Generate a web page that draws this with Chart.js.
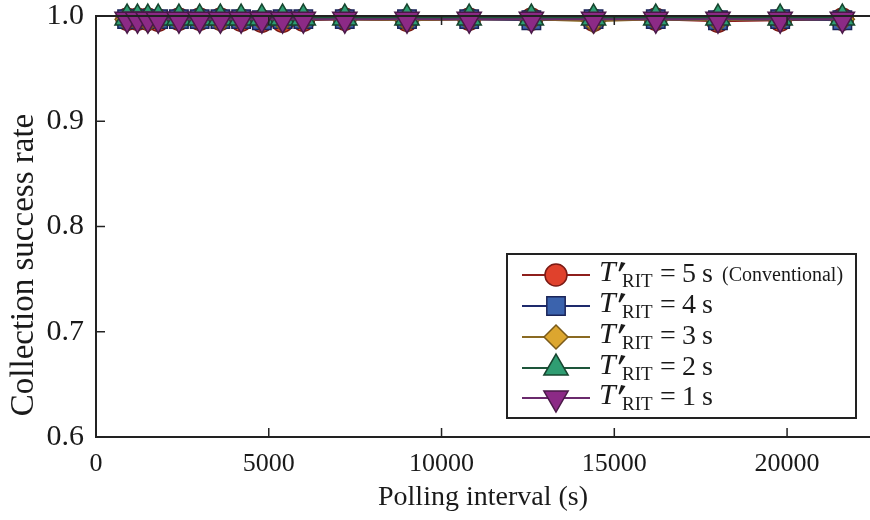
<!DOCTYPE html>
<html>
<head>
<meta charset="utf-8">
<script src="https://cdn.jsdelivr.net/npm/chart.js@4.4.1/dist/chart.umd.min.js"></script>
<style>
    html, body { margin: 0; padding: 0; background: #fff; }
    #wrap { width: 870px; height: 520px; }
</style>
</head>
<body>
<div id="wrap"><canvas id="rateChart" width="870" height="520"></canvas></div>
<script>
// ==========================
// DATA
// ==========================

const pollingIntervals = [900, 1200, 1500, 1800, 2400, 3000, 3600, 4200, 4800, 5400,
                          6000, 7200, 9000, 10800, 12600, 14400, 16200, 18000, 19800, 21600];

const rateRit5 = [0.997, 0.997, 0.997, 0.996, 0.997, 0.997, 0.997, 0.996, 0.995, 0.995,
                  0.996, 0.997, 0.996, 0.997, 0.997, 0.996, 0.997, 0.995, 0.996, 0.997];
const rateRit4 = [0.997, 0.997, 0.997, 0.997, 0.997, 0.997, 0.997, 0.997, 0.996, 0.997,
                  0.997, 0.997, 0.997, 0.997, 0.996, 0.997, 0.997, 0.996, 0.997, 0.996];
const rateRit3 = [0.997, 0.997, 0.996, 0.997, 0.997, 0.997, 0.996, 0.997, 0.997, 0.996,
                  0.997, 0.997, 0.996, 0.997, 0.997, 0.995, 0.997, 0.996, 0.997, 0.997];
const rateRit2 = [0.998, 0.998, 0.998, 0.998, 0.998, 0.998, 0.998, 0.998, 0.998, 0.998,
                  0.998, 0.998, 0.998, 0.998, 0.998, 0.998, 0.998, 0.998, 0.998, 0.998];
const rateRit1 = [0.997, 0.997, 0.997, 0.997, 0.997, 0.997, 0.997, 0.997, 0.997, 0.997,
                  0.997, 0.997, 0.997, 0.997, 0.997, 0.997, 0.997, 0.997, 0.997, 0.997];

const ritSeconds = ['5', '4', '3', '2', '1'];
const ritNotes   = ['(Conventional)', '', '', '', ''];

const xTicks = [0, 5000, 10000, 15000, 20000];
const yTicks = [0.6, 0.7, 0.8, 0.9, 1.0];

const xTitle = 'Polling interval (s)';
const yTitle = 'Collection success rate';

// ==========================
// STYLES
// ==========================

const serif = '"Liberation Serif", "Times New Roman", serif';
const ink   = '#1a1a1a';

const styles = [
    { line: '#8e1f1c', fill: '#e0412c', edge: '#7a1a14', point: 'circle',   radius: 11, rotation: 0 },
    { line: '#1e2a6c', fill: '#3b63ad', edge: '#1b2558', point: 'rect',     radius: 13, rotation: 0 },
    { line: '#8a6a22', fill: '#dca62f', edge: '#7a5a1a', point: 'rectRot',  radius: 12, rotation: 0 },
    { line: '#1d553a', fill: '#2f9d72', edge: '#17452f', point: 'triangle', radius: 14, rotation: 0 },
    { line: '#6a2a6c', fill: '#8c2a86', edge: '#4a1a48', point: 'triangle', radius: 14, rotation: 180 }
];

const seriesValues = [rateRit5, rateRit4, rateRit3, rateRit2, rateRit1];

const datasets = seriesValues.map((values, i) => ({
    label: 'T_RIT = ' + ritSeconds[i] + ' s',
    data: pollingIntervals.map((x, k) => ({ x: x, y: values[k] })),
    borderColor: styles[i].line,
    borderWidth: 2,
    backgroundColor: styles[i].fill,
    pointBackgroundColor: styles[i].fill,
    pointBorderColor: styles[i].edge,
    pointBorderWidth: 1.5,
    pointStyle: styles[i].point,
    pointRadius: styles[i].radius,
    pointRotation: styles[i].rotation,
    tension: 0,
    clip: false,
    order: 5 - i
}));

// ==========================
// PLUGINS
// ==========================

const framePlugin = {
    id: 'frame',
    afterDatasetsDraw(chart) {
        const { ctx, chartArea: a, scales } = chart;
        ctx.save();
        ctx.strokeStyle = '#222';
        ctx.lineWidth = 2;
        ctx.beginPath();
        ctx.moveTo(a.left, a.top);
        ctx.lineTo(a.right, a.top);
        ctx.stroke();

        ctx.lineWidth = 1.5;
        xTicks.forEach(v => {
            const px = scales.x.getPixelForValue(v);
            ctx.beginPath();
            ctx.moveTo(px, a.bottom);
            ctx.lineTo(px, a.bottom - 9);
            ctx.moveTo(px, a.top);
            ctx.lineTo(px, a.top + 9);
            ctx.stroke();
        });
        yTicks.forEach(v => {
            const py = scales.y.getPixelForValue(v);
            ctx.beginPath();
            ctx.moveTo(a.left, py);
            ctx.lineTo(a.left + 9, py);
            ctx.stroke();
        });

        // y title sits a bit lower than the axis centre in the original
        ctx.translate(33, 265);
        ctx.rotate(-Math.PI / 2);
        ctx.fillStyle = ink;
        ctx.font = '33px ' + serif;
        ctx.textAlign = 'center';
        ctx.textBaseline = 'alphabetic';
        ctx.fillText(yTitle, 0, 0);
        ctx.restore();
    }
};

function drawRitLabel(ctx, x, y, secs, note) {
    ctx.fillStyle = ink;
    ctx.textAlign = 'left';
    ctx.textBaseline = 'alphabetic';

    ctx.font = 'italic 30px ' + serif;
    ctx.fillText('T', x, y + 6);

    // prime: small slanted wedge
    ctx.beginPath();
    ctx.moveTo(x + 22, y - 13);
    ctx.lineTo(x + 26.5, y - 12);
    ctx.lineTo(x + 21, y - 3.5);
    ctx.lineTo(x + 19.5, y - 4);
    ctx.closePath();
    ctx.fill();

    ctx.font = '19px ' + serif;
    ctx.fillText('RIT', x + 23, y + 12);

    ctx.font = '28px ' + serif;
    ctx.fillText('=', x + 61, y + 7);
    ctx.fillText(secs, x + 83, y + 7);
    ctx.fillText('s', x + 103, y + 7);

    if (note) {
        ctx.font = '20px ' + serif;
        ctx.fillText(note, x + 123, y + 6);
    }
}

const legendPlugin = {
    id: 'ritLegend',
    afterDraw(chart) {
        const ctx = chart.ctx;
        const box = { left: 507, top: 254, right: 856, bottom: 418 };
        const rows = [275, 306, 337, 368, 398];

        ctx.save();
        ctx.fillStyle = '#fff';
        ctx.fillRect(box.left, box.top, box.right - box.left, box.bottom - box.top);
        ctx.strokeStyle = '#222';
        ctx.lineWidth = 2;
        ctx.strokeRect(box.left, box.top, box.right - box.left, box.bottom - box.top);

        rows.forEach((ry, i) => {
            const s = styles[i];
            ctx.strokeStyle = s.line;
            ctx.lineWidth = 2;
            ctx.beginPath();
            ctx.moveTo(522, ry);
            ctx.lineTo(590, ry);
            ctx.stroke();

            ctx.fillStyle = s.fill;
            ctx.strokeStyle = s.edge;
            ctx.lineWidth = 1.5;
            Chart.helpers.drawPoint(ctx, {
                pointStyle: s.point,
                radius: s.radius,
                rotation: s.rotation,
                borderWidth: 1.5
            }, 556, ry);

            drawRitLabel(ctx, 599, ry, ritSeconds[i], ritNotes[i]);
        });
        ctx.restore();
    }
};

// ==========================
// CHART
// ==========================

const chartCanvas = document.getElementById('rateChart');

new Chart(chartCanvas, {
    type: 'line',
    data: { datasets: datasets },
    options: {
        responsive: false,
        animation: false,
        devicePixelRatio: 1,
        layout: {
            autoPadding: false,
            padding: { top: 16, right: 0, left: 0, bottom: 0 }
        },
        plugins: {
            legend: { display: false },
            tooltip: { enabled: false }
        },
        scales: {
            x: {
                type: 'linear',
                min: 0,
                max: 22400,
                afterFit(scale) {
                    scale.height = 83;
                    scale.paddingLeft = 0;
                    scale.paddingRight = 0;
                },
                afterBuildTicks(scale) {
                    scale.ticks = xTicks.map(v => ({ value: v }));
                },
                grid: { display: false, drawTicks: false },
                border: { display: true, color: '#222', width: 2 },
                ticks: {
                    padding: 12,
                    color: ink,
                    font: { family: serif, size: 26 },
                    callback: v => String(v)
                },
                title: {
                    display: true,
                    text: xTitle,
                    color: ink,
                    font: { family: serif, size: 28 },
                    padding: { top: 0, bottom: 6 }
                }
            },
            y: {
                min: 0.6,
                max: 1.0,
                afterFit(scale) {
                    scale.width = 96;
                    scale.paddingTop = 0;
                    scale.paddingBottom = 0;
                },
                afterBuildTicks(scale) {
                    scale.ticks = yTicks.map(v => ({ value: v }));
                },
                grid: { display: false, drawTicks: false },
                border: { display: true, color: '#222', width: 2 },
                ticks: {
                    padding: 12,
                    color: ink,
                    font: { family: serif, size: 30 },
                    callback: v => Number(v).toFixed(1)
                },
                title: { display: false }
            }
        }
    },
    plugins: [framePlugin, legendPlugin]
});
</script>
</body>
</html>
